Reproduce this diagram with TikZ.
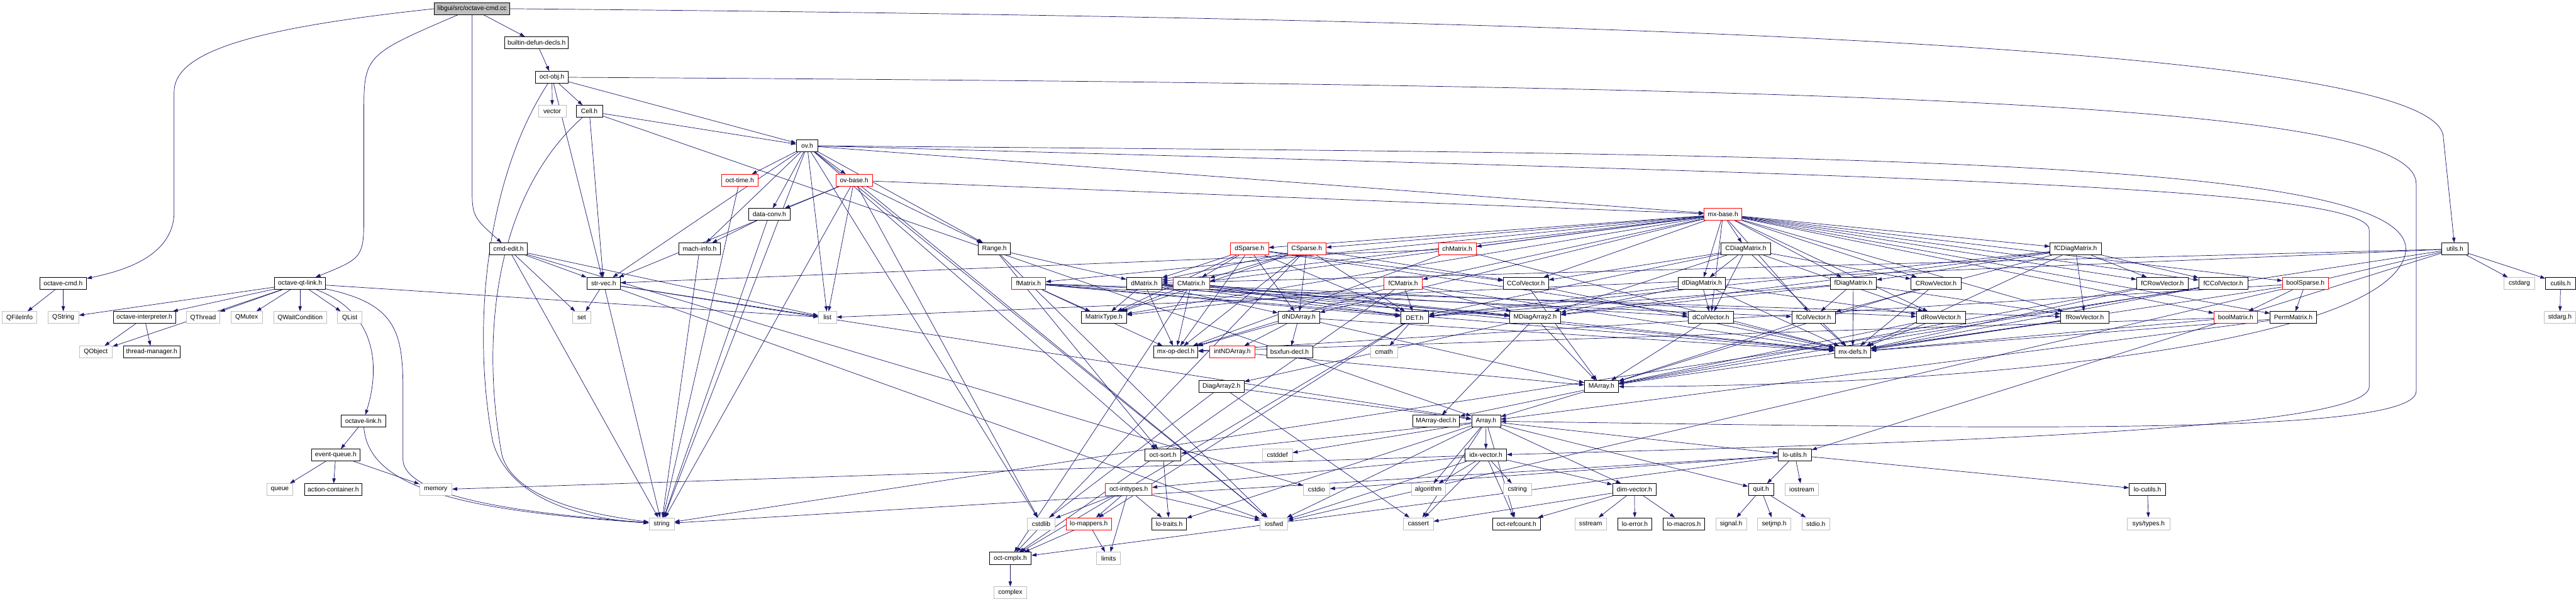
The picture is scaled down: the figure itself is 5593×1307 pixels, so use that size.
\documentclass[tikz,border=0pt]{standalone}
\usepackage{fontspec}
\setmainfont{Liberation Sans}
\usetikzlibrary{arrows.meta}

\definecolor{edgeblue}{HTML}{191970}
\definecolor{sysgray}{HTML}{BFBFBF}

\pgfdeclarelayer{background}
\pgfsetlayers{background,main}

\tikzset{
  hdr/.style={draw=black, fill=white, line width=0.55pt, minimum height=5.2mm,
    inner sep=0.4mm, font=\fontsize{8}{9.6}\selectfont},
  sys/.style={hdr, draw=sysgray},
  trunc/.style={hdr, draw=red},
  rootfile/.style={hdr, fill=sysgray},
  bw/.style={minimum width=#1*0.2mm},
  incl/.style={draw=edgeblue, line width=0.55pt,
    -{Triangle[length=2.2mm,width=1.5mm]}}
}

\begin{document}
\begin{tikzpicture}[x=0.2mm,y=-0.2mm]

\useasboundingbox (0,0) rectangle (5593,1307);

% Root and interpreter side
\node[rootfile, bw=164] (cc) at (1025,19) {libgui/src/octave-cmd.cc};
\node[hdr, bw=138] (bdd) at (1165,93) {builtin-defun-decls.h};
\node[hdr, bw=71] (octobj) at (1198.5,168) {oct-obj.h};
\node[sys, bw=60] (vector) at (1199,242) {vector};
\node[hdr, bw=57] (cell) at (1279.5,242) {Cell.h};
\node[hdr, bw=47] (ov) at (1752.5,317) {ov.h};
\node[trunc, bw=80] (octtime) at (1606,392) {oct-time.h};
\node[trunc, bw=79] (ovbase) at (1854.5,392) {ov-base.h};
\node[hdr, bw=91] (dataconv) at (1670.5,466) {data-conv.h};
\node[trunc, bw=82] (mxbase) at (3741,466) {mx-base.h};

% Rank of cmd-edit.h
\node[hdr, bw=82] (cmdedit) at (1104,541) {cmd-edit.h};
\node[hdr, bw=90] (machinfo) at (1519,541) {mach-info.h};
\node[hdr, bw=70] (range) at (2159,541) {Range.h};
\node[trunc, bw=82] (dsparse) at (2713,541) {dSparse.h};
\node[trunc, bw=84] (csparse) at (2837,541) {CSparse.h};
\node[trunc, bw=82] (chmatrix) at (3164,541) {chMatrix.h};
\node[hdr, bw=107] (cdiag) at (3790.5,541) {CDiagMatrix.h};
\node[hdr, bw=111] (fcdiag) at (4506.5,541) {fCDiagMatrix.h};
\node[hdr, bw=58] (utils) at (5330,541) {utils.h};

% Rank of octave-cmd.h
\node[hdr, bw=102] (ocmdh) at (137,616) {octave-cmd.h};
\node[hdr, bw=111] (qtlink) at (651.5,616) {octave-qt-link.h};
\node[hdr, bw=73] (strvec) at (1310.5,616) {str-vec.h};
\node[trunc, bw=74] (fmatrix) at (2233,616) {fMatrix.h};
\node[hdr, bw=77] (dmatrix) at (2484.5,616) {dMatrix.h};
\node[trunc, bw=79] (cmatrix) at (2586.5,616) {CMatrix.h};
\node[trunc, bw=83] (fcmatrix) at (3046.5,616) {fCMatrix.h};
\node[hdr, bw=98] (ccolvec) at (3313,616) {CColVector.h};
\node[hdr, bw=102] (ddiag) at (3695,616) {dDiagMatrix.h};
\node[hdr, bw=100] (fdiag) at (4024,616) {fDiagMatrix.h};
\node[hdr, bw=109] (crowvec) at (4203.5,616) {CRowVector.h};
\node[hdr, bw=112] (fcrowvec) at (4695,616) {fCRowVector.h};
\node[hdr, bw=106] (fccolvec) at (4827,616) {fCColVector.h};
\node[trunc, bw=99] (boolsparse) at (5005.5,616) {boolSparse.h};
\node[sys, bw=66] (cstdarg) at (5470,616) {cstdarg};
\node[hdr, bw=65] (cutils) at (5559.5,616) {cutils.h};

% Qt headers and matrix helpers
\node[sys, bw=75] (qfileinfo) at (42.5,690) {QFileInfo};
\node[sys, bw=67] (qstring) at (137.5,690) {QString};
\node[hdr, bw=135] (ointerp) at (313.5,690) {octave-interpreter.h};
\node[sys, bw=72] (qthread) at (441,690) {QThread};
\node[sys, bw=69] (qmutex) at (535.5,690) {QMutex};
\node[sys, bw=115] (qwait) at (651.5,690) {QWaitCondition};
\node[sys, bw=53] (qlist) at (759.5,690) {QList};
\node[sys, bw=40] (set) at (1263,690) {set};
\node[sys, bw=39] (list) at (1796.5,690) {list};
\node[hdr, bw=98] (mattype) at (2397,690) {MatrixType.h};
\node[hdr, bw=90] (dndarray) at (2820,690) {dNDArray.h};
\node[hdr, bw=61] (det) at (3071.5,690) {DET.h};
\node[hdr, bw=110] (mdiag) at (3333,690) {MDiagArray2.h};
\node[hdr, bw=99] (dcolvec) at (3714.5,690) {dColVector.h};
\node[hdr, bw=95] (fcolvec) at (3937.5,690) {fColVector.h};
\node[hdr, bw=106] (drowvec) at (4214,690) {dRowVector.h};
\node[hdr, bw=105] (frowvec) at (4526.5,690) {fRowVector.h};
\node[trunc, bw=94] (boolmatrix) at (4854,690) {boolMatrix.h};
\node[hdr, bw=100] (permmatrix) at (4979,690) {PermMatrix.h};
\node[sys, bw=68] (stdargh) at (5558,690) {stdarg.h};

\node[sys, bw=72] (qobject) at (208,765) {QObject};
\node[hdr, bw=123] (threadmgr) at (329.5,765) {thread-manager.h};
\node[hdr, bw=96] (mxopdecl) at (2553,765) {mx-op-decl.h};
\node[trunc, bw=99] (intnd) at (2675.5,765) {intNDArray.h};
\node[hdr, bw=100] (bsxfun) at (2800,765) {bsxfun-decl.h};
\node[sys, bw=58] (cmath) at (3005,765) {cmath};
\node[hdr, bw=79] (mxdefs) at (4022.5,765) {mx-defs.h};

\node[hdr, bw=98] (diagarray) at (2652,840) {DiagArray2.h};
\node[hdr, bw=74] (marray) at (3477,840) {MArray.h};

\node[hdr, bw=96] (olink) at (789,915) {octave-link.h};
\node[hdr, bw=102] (marraydecl) at (3118,915) {MArray-decl.h};
\node[hdr, bw=63] (array) at (3226.5,915) {Array.h};

% Low level headers
\node[hdr, bw=104] (evqueue) at (729,989) {event-queue.h};
\node[hdr, bw=78] (octsort) at (2525,989) {oct-sort.h};
\node[sys, bw=65] (cstddef) at (2773.5,989) {cstddef};
\node[hdr, bw=90] (idxvec) at (3226,989) {idx-vector.h};
\node[hdr, bw=72] (loutils) at (3897,989) {lo-utils.h};

\node[sys, bw=57] (queue) at (607.5,1064) {queue};
\node[hdr, bw=125] (actcont) at (723.5,1064) {action-container.h};
\node[sys, bw=70] (memory) at (946,1064) {memory};
\node[trunc, bw=101] (octint) at (2450.5,1064) {oct-inttypes.h};
\node[sys, bw=57] (cstdio) at (2858.5,1064) {cstdio};
\node[sys, bw=74] (algorithm) at (3101,1064) {algorithm};
\node[sys, bw=61] (cstring) at (3294.5,1064) {cstring};
\node[hdr, bw=95] (dimvec) at (3548.5,1064) {dim-vector.h};
\node[hdr, bw=55] (quit) at (3823.5,1064) {quit.h};
\node[sys, bw=72] (iostream) at (3912,1064) {iostream};
\node[hdr, bw=79] (locutils) at (4662.5,1064) {lo-cutils.h};

\node[sys, bw=55] (string) at (1436.5,1138) {string};
\node[sys, bw=61] (cstdlib) at (2260.5,1138) {cstdlib};
\node[trunc, bw=98] (lomappers) at (2364,1138) {lo-mappers.h};
\node[hdr, bw=75] (lotraits) at (2538.5,1138) {lo-traits.h};
\node[sys, bw=60] (iosfwd) at (2766,1138) {iosfwd};
\node[sys, bw=65] (cassert) at (3079.5,1138) {cassert};
\node[hdr, bw=103] (refcount) at (3292.5,1138) {oct-refcount.h};
\node[sys, bw=69] (sstream) at (3453.5,1138) {sstream};
\node[hdr, bw=73] (loerror) at (3549.5,1138) {lo-error.h};
\node[hdr, bw=90] (lomacros) at (3656,1138) {lo-macros.h};
\node[sys, bw=67] (signal) at (3758.5,1138) {signal.h};
\node[sys, bw=72] (setjmp) at (3852,1138) {setjmp.h};
\node[sys, bw=61] (stdio) at (3942.5,1138) {stdio.h};
\node[sys, bw=92] (systypes) at (4665,1138) {sys/types.h};

\node[hdr, bw=91] (octcmplx) at (2193.5,1213) {oct-cmplx.h};
\node[sys, bw=52] (limits) at (2407,1213) {limits};
\node[sys, bw=71] (complex) at (2193.5,1288) {complex};

\begin{pgfonlayer}{background}
% Root
\draw[incl] (cc) -- (bdd);
\draw[incl] (cc.west) .. controls (560,60) and (378,110) .. (378,200)
  -- (378,460) .. controls (378,560) and (260,590) .. (ocmdh);
\draw[incl] (cc) .. controls (790,120) .. (790,250)
  -- (790,460) .. controls (790,560) .. (qtlink);
\draw[incl] (cc) -- (1025,400) .. controls (1025,470) .. (cmdedit);
\draw[incl] (cc.east) .. controls (3500,40) and (5305,100) .. (5305,300)
  -- (utils);

% Interpreter headers
\draw[incl] (bdd) -- (octobj);
\foreach \t in {vector,cell,ov,strvec}
  \draw[incl] (octobj) -- (\t);
\draw[incl] (octobj) .. controls (1060,380) and (1021,700) .. (1070,960)
  .. controls (1110,1100) and (1300,1130) .. (string);
\draw[incl] (octobj.east) .. controls (4200,185) and (5246,230) .. (5246,400)
  -- (5246,850) .. controls (5246,950) and (4300,930) .. (array);
\foreach \t in {ov,strvec,array}
  \draw[incl] (cell) -- (\t);
\draw[incl] (cell) .. controls (1080,420) and (1040,720) .. (1090,990)
  .. controls (1120,1090) and (1300,1120) .. (string);
\foreach \t in {octtime,ovbase,dataconv,machinfo,strvec,range,mxbase,string,list,iosfwd,cstdlib,octsort}
  \draw[incl] (ov) -- (\t);
\draw[incl] (ov.east) .. controls (4000,335) and (5300,340) .. (5220,560)
  .. controls (5150,760) and (4200,840) .. (marray);
\draw[incl] (ov.east) .. controls (4000,380) and (5144,400) .. (5144,500)
  -- (5144,840) .. controls (5144,930) and (4300,960) .. (idxvec);
\foreach \t in {dataconv,strvec,mxbase,range,string,list,iosfwd,cstdlib}
  \draw[incl] (ovbase) -- (\t);
\draw[incl] (octtime) -- (string);
\foreach \t in {machinfo,string}
  \draw[incl] (dataconv) -- (\t);
\draw[incl] (machinfo) -- (string);
\foreach \t in {dmatrix,octsort,iosfwd}
  \draw[incl] (range) -- (\t);

% GUI headers
\foreach \t in {qfileinfo,qstring}
  \draw[incl] (ocmdh) -- (\t);
\foreach \t in {qobject,qstring,ointerp,qthread,qmutex,qwait,qlist,list}
  \draw[incl] (qtlink) -- (\t);
\draw[incl] (qtlink) .. controls (820,680) and (825,800) .. (olink);
\draw[incl] (qtlink) .. controls (860,660) and (875,720) .. (875,850)
  -- (875,1000) .. controls (880,1090) and (1200,1120) .. (string);
\foreach \t in {qobject,threadmgr}
  \draw[incl] (ointerp) -- (\t);
\draw[incl] (olink) -- (evqueue);
\draw[incl] (olink) .. controls (800,1060) and (1000,1110) .. (string);
\foreach \t in {queue,actcont,memory}
  \draw[incl] (evqueue) -- (\t);
\foreach \t in {strvec,cstdio,list,string,set}
  \draw[incl] (cmdedit) -- (\t);
\foreach \t in {set,list,string,iosfwd,array}
  \draw[incl] (strvec) -- (\t);
\foreach \t in {cstdarg,cutils,iosfwd,string,list,loutils,dmatrix}
  \draw[incl] (utils) -- (\t);
\draw[incl] (cutils) -- (stdargh);

% Matrix classes
\foreach \t in {mattype,boolmatrix,chmatrix,dmatrix,cmatrix,fmatrix,fcmatrix,dcolvec,ccolvec,fcolvec,fccolvec,drowvec,crowvec,frowvec,fcrowvec,ddiag,cdiag,fdiag,fcdiag,permmatrix,boolsparse,dsparse,csparse,dndarray}
  \draw[incl] (mxbase) -- (\t);
\foreach \t in {dmatrix,cmatrix,dndarray,dcolvec,ccolvec,det,mattype,mxopdecl}
  \draw[incl] (dsparse) -- (\t);
\foreach \t in {dmatrix,cmatrix,ccolvec,dndarray,det,mattype,mxopdecl,octcmplx}
  \draw[incl] (csparse) -- (\t);
\foreach \t in {strvec,mxdefs,mxopdecl}
  \draw[incl] (chmatrix) -- (\t);
\foreach \t in {dndarray,mdiag,mattype,drowvec,dcolvec,det,mxdefs,mxopdecl}
  \draw[incl] (dmatrix) -- (\t);
\foreach \t in {mdiag,mattype,frowvec,fcolvec,det,mxdefs,mxopdecl}
  \draw[incl] (fmatrix) -- (\t);
\foreach \t in {mdiag,mattype,det,mxdefs,mxopdecl,octcmplx}
  \draw[incl] (cmatrix) -- (\t);
\foreach \t in {mdiag,mattype,det,mxdefs,mxopdecl,octcmplx}
  \draw[incl] (fcmatrix) -- (\t);
\foreach \s in {ccolvec,crowvec,fccolvec,fcrowvec,dcolvec,drowvec,fcolvec,frowvec}
{
  \draw[incl] (\s) -- (marray);
  \draw[incl] (\s) -- (mxdefs);
}
\foreach \t in {mdiag,drowvec,dcolvec,det,mxdefs}
  \draw[incl] (ddiag) -- (\t);
\foreach \t in {mdiag,frowvec,fcolvec,det,mxdefs}
  \draw[incl] (fdiag) -- (\t);
\foreach \t in {ddiag,crowvec,ccolvec,drowvec,dcolvec,mdiag,det,mxdefs}
  \draw[incl] (cdiag) -- (\t);
\foreach \t in {fdiag,fcrowvec,fccolvec,frowvec,fcolvec,mdiag,det,mxdefs}
  \draw[incl] (fcdiag) -- (\t);
\foreach \t in {boolmatrix,permmatrix,mxdefs,mxopdecl}
  \draw[incl] (boolsparse) -- (\t);
\foreach \t in {mxdefs,mxopdecl}
  \draw[incl] (boolmatrix) -- (\t);
\foreach \t in {array,mxdefs}
  \draw[incl] (permmatrix) -- (\t);
\foreach \t in {marray,intnd,mxdefs,mxopdecl,bsxfun}
  \draw[incl] (dndarray) -- (\t);
\draw[incl] (intnd) -- (marray);
\foreach \t in {cmath,octcmplx,lomappers}
  \draw[incl] (det) -- (\t);
\foreach \t in {diagarray,marray,marraydecl}
  \draw[incl] (mdiag) -- (\t);
\foreach \t in {array,cassert,cstdlib}
  \draw[incl] (diagarray) -- (\t);
\foreach \t in {array,marraydecl}
  \draw[incl] (marray) -- (\t);

% Array and below
\foreach \t in {cassert,cstddef,algorithm,iosfwd,idxvec,lotraits,loutils,octsort,quit,refcount,dimvec}
  \draw[incl] (array) -- (\t);
\foreach \t in {cassert,cstring,algorithm,iosfwd,memory,dimvec,octint,refcount}
  \draw[incl] (idxvec) -- (\t);
\draw[incl] (octsort) -- (lotraits);
\foreach \t in {cstdlib,lomappers,lotraits,limits,iosfwd}
  \draw[incl] (octint) -- (\t);
\foreach \t in {limits,octcmplx}
  \draw[incl] (lomappers) -- (\t);
\foreach \t in {cstdio,iostream,string,quit,locutils,octcmplx}
  \draw[incl] (loutils) -- (\t);
\foreach \t in {signal,setjmp,stdio}
  \draw[incl] (quit) -- (\t);
\foreach \t in {cassert,sstream,loerror,lomacros,refcount}
  \draw[incl] (dimvec) -- (\t);
\draw[incl] (locutils) -- (systypes);
\draw[incl] (octcmplx) -- (complex);
\end{pgfonlayer}

\end{tikzpicture}
\end{document}
